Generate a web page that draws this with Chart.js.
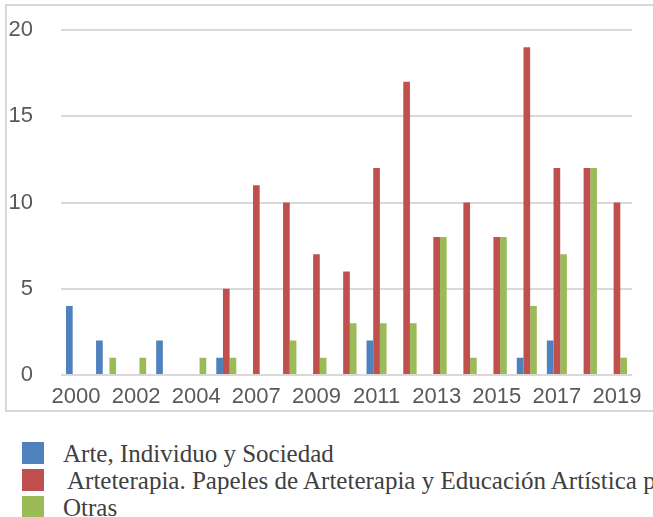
<!DOCTYPE html>
<html>
<head>
<meta charset="utf-8">
<script src="https://cdn.jsdelivr.net/npm/chart.js@4.4.1/dist/chart.umd.min.js"></script>
<style>
  html, body { margin: 0; padding: 0; background: #fff; }
  body { width: 653px; height: 517px; overflow: hidden; position: relative; }
  #frame {
    position: absolute; left: 5px; top: 4px; width: 700px; height: 404px;
    border: 2px solid #d9d9d9; border-right: none;
  }
  #chart { position: absolute; left: 0; top: 0; }
  #legend { position: absolute; left: 0; top: 0; width: 653px; }
  .row { position: absolute; left: 0; width: 653px; height: 27px; white-space: nowrap; }
  .box { position: absolute; left: 22px; top: 1px; width: 22px; height: 22px; }
  .txt {
    position: absolute; left: 63px; top: 0; line-height: 25px;
    font-family: "Liberation Serif", serif; font-size: 25px; color: #404040;
  }
</style>
</head>
<body>
<div id="frame"></div>
<canvas id="chart" width="653" height="420"></canvas>
<div id="legend"></div>
<script>
const years = ['2000', '2001', '2002', '2003', '2004', '2006', '2007', '2008', '2009', '2010',
  '2011', '2012', '2013', '2014', '2015', '2016', '2017', '2018', '2019'];
const arteIndividuo = [4, 2, 0, 2, 0, 1, 0, 0, 0, 0, 2, 0, 0, 0, 0, 1, 2, 0, 0];
const arteterapia = [0, 0, 0, 0, 0, 5, 11, 10, 7, 6, 12, 17, 8, 10, 8, 19, 12, 12, 10];
const otras = [0, 1, 1, 0, 1, 1, 0, 2, 1, 3, 3, 3, 8, 1, 8, 4, 7, 12, 1];
const seriesNames = [
  'Arte, Individuo y Sociedad',
  'Arteterapia. Papeles de Arteterapia y Educación Artística para la Inclusión Social',
  'Otras'
];
const yTicks = [0, 5, 10, 15, 20];

const COLORS = ['#4f81bd', '#c0504d', '#9bbb59'];
const tickFont = { family: 'Liberation Sans', size: 22 };

const chart = new Chart(document.getElementById('chart').getContext('2d'), {
  type: 'bar',
  data: {
    labels: years,
    datasets: [arteIndividuo, arteterapia, otras].map((values, i) => ({
      label: seriesNames[i],
      data: values,
      backgroundColor: COLORS[i],
      borderWidth: 0,
      barPercentage: 1,
      categoryPercentage: 0.667,
    })),
  },
  options: {
    responsive: false,
    animation: false,
    layout: { padding: { left: 0, right: 21, top: 30, bottom: 0 } },
    plugins: { legend: { display: false }, tooltip: { enabled: false } },
    scales: {
      x: {
        grid: { display: false, drawTicks: false },
        border: { display: false },
        ticks: {
          autoSkip: false,
          maxRotation: 0,
          padding: 9,
          color: '#595959',
          font: tickFont,
          callback: (v, i) => (i % 2 === 0 ? years[i] : ''),
        },
        afterFit: scale => { scale.height = 45; },
      },
      y: {
        min: yTicks[0],
        max: yTicks[yTicks.length - 1],
        afterBuildTicks: scale => { scale.ticks = yTicks.map(v => ({ value: v })); },
        grid: { color: '#d9d9d9', lineWidth: 2, drawTicks: false },
        border: { display: false },
        ticks: { padding: 28, color: '#595959', font: tickFont },
        // tick padding gets added to the top/bottom margins too, drop it
        afterFit: scale => {
          scale.width = 61;
          scale.paddingTop = 0;
          scale.paddingBottom = 0;
        },
      },
    },
  },
});

// legend as a plain list under the chart, text runs off the right edge
const legendEl = document.getElementById('legend');
chart.data.datasets.forEach((ds, i) => {
  const row = document.createElement('div');
  row.className = 'row';
  row.style.top = (441 + i * 27) + 'px';
  const box = document.createElement('div');
  box.className = 'box';
  box.style.background = ds.backgroundColor;
  const txt = document.createElement('span');
  txt.className = 'txt';
  if (i === 1) txt.style.left = '67px';
  txt.textContent = ds.label;
  row.appendChild(box);
  row.appendChild(txt);
  legendEl.appendChild(row);
});
</script>
</body>
</html>
